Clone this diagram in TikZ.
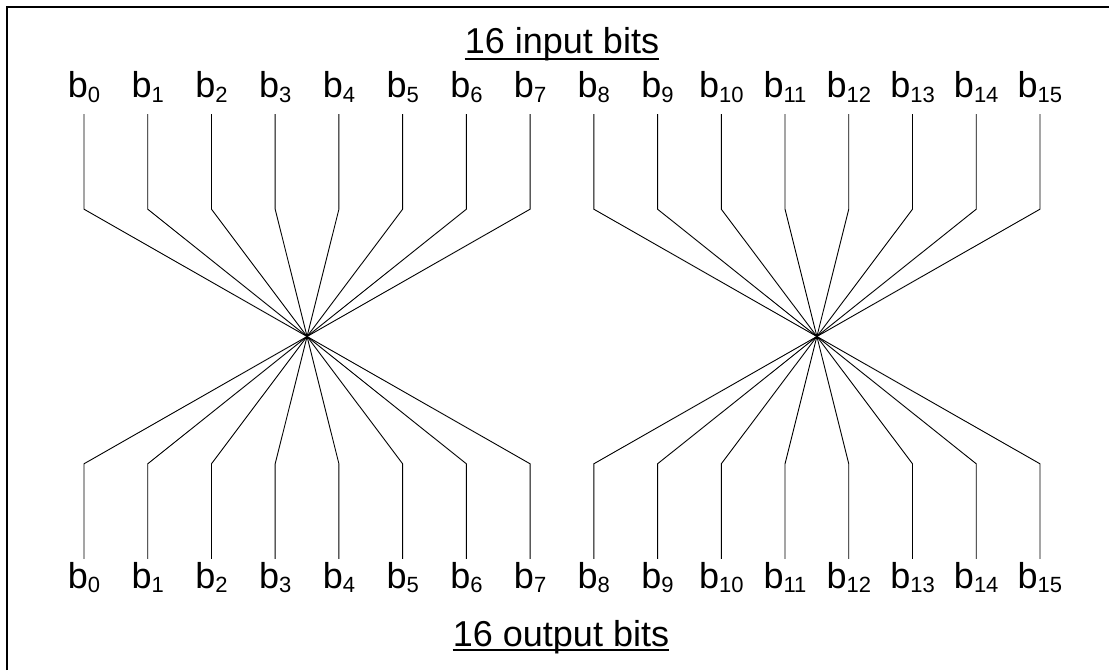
\documentclass[tikz,border=0pt]{standalone}
\usepackage{fontspec}
\setmainfont{Liberation Sans}
\usetikzlibrary{calc}
\newcommand\bitsub[1]{\raisebox{-5pt}{\fontsize{22}{22}\selectfont #1}}
\begin{document}
\begin{tikzpicture}[x=1pt,y=1pt,
  bitlabel/.style={anchor=base, inner xsep=0pt, inner ysep=11pt,
    text height=18pt, text depth=5pt, font=\fontsize{36}{36}\selectfont},
  wire/.style={line width=0.9pt, black},
  titlelabel/.style={anchor=base, inner sep=0pt, font=\fontsize{36}{36}\selectfont},
  uline/.style={line width=2pt},
  frame/.style={line width=2pt}]
\useasboundingbox (0,0) rectangle (1109,670);
\draw[frame] (7,0) -- (7,663) -- (1112,663);
\foreach \i in {0,...,15} {
  \pgfmathsetmacro\xx{84+63.73*\i}
  \node[bitlabel] (t\i) at (\xx,572) {b\bitsub{\i}};
  \node[bitlabel] (o\i) at (\xx,82) {b\bitsub{\i}};
}
\foreach \g in {0,1} {
  \foreach \i in {0,...,7} {
    \pgfmathtruncatemacro\k{8*\g+\i}
    \pgfmathtruncatemacro\m{8*\g+7-\i}
    \draw[wire] (t\k.south) -- ++(0,-95) -- ($(o\m.north)+(0,95)$) -- (o\m.north);
  }
}
\node[titlelabel] (tin) at (562,616) {16 input bits};
\draw[uline] ([yshift=-5pt]tin.base west) -- ([yshift=-5pt]tin.base east);
\node[titlelabel] (tout) at (561,24) {16 output bits};
\draw[uline] ([yshift=-4pt]tout.base west) -- ([yshift=-4pt]tout.base east);
\end{tikzpicture}
\end{document}
